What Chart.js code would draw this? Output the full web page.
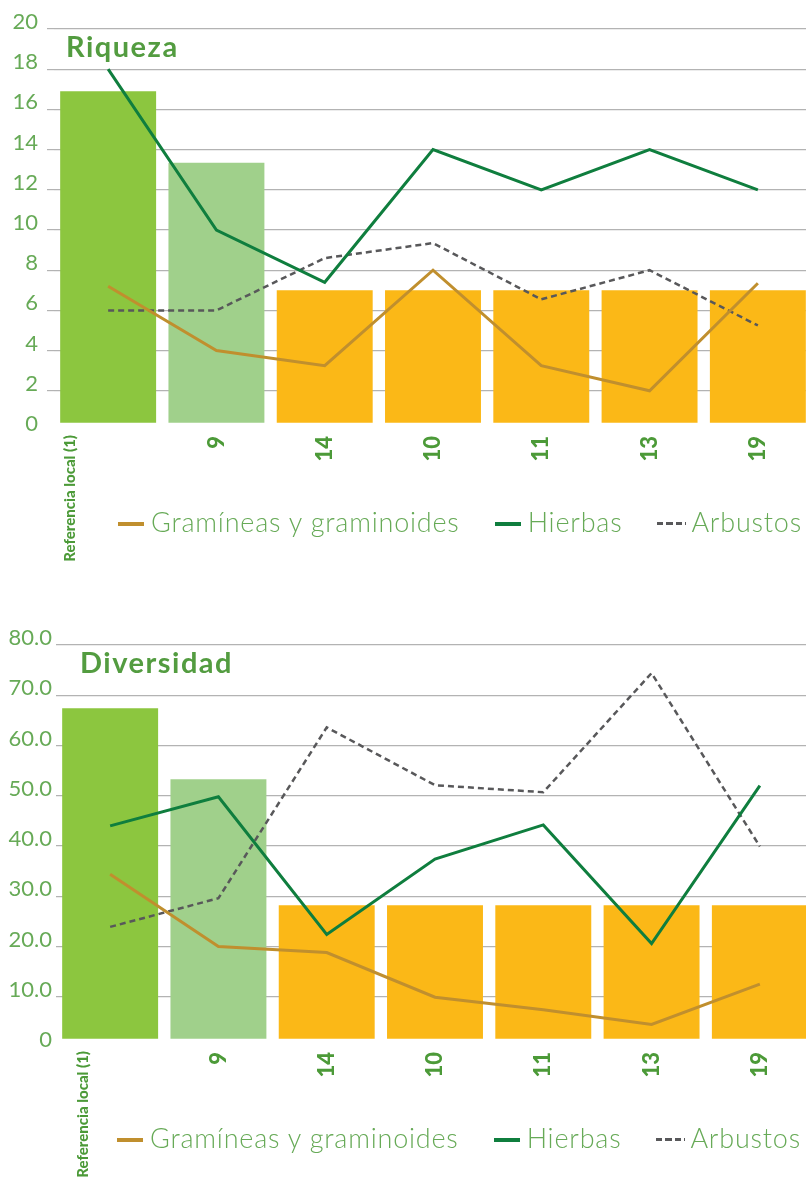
<!DOCTYPE html>
<html lang="es">
<head>
<meta charset="utf-8">
<title>Riqueza y diversidad</title>
<script src="https://cdn.jsdelivr.net/npm/chart.js@4.4.1/dist/chart.umd.min.js"></script>
<style>
  html, body { margin: 0; padding: 0; background: #fff; }
  #page { position: relative; width: 806px; height: 1182px; overflow: hidden; font-family: Lato, "Open Sans", sans-serif; }
  .panel { position: absolute; left: 0; width: 830px; height: 616px; }
  .panel canvas { position: absolute; left: 0; top: 0; }
  .panel-title { position: absolute; top: 31px; font-size: 29px; line-height: 29px; font-weight: 700; color: #539c40; letter-spacing: 1.5px; white-space: nowrap; }
  .legend { position: absolute; left: 118px; top: 508px; display: flex; align-items: center; white-space: nowrap; }
  .legend-item { display: flex; align-items: center; margin-right: 35px; }
  .legend-swatch { position: relative; top: 2px; width: 26px; height: 4px; margin-right: 7px; }
  .legend-text { font-size: 27px; line-height: 27px; font-weight: 300; color: #67aa57; letter-spacing: 0.8px; }
</style>
</head>
<body>
<div id="page">
  <div class="panel" style="top:0px">
    <canvas id="riqueza" width="830" height="616"></canvas>
    <div class="panel-title" style="left:66px">Riqueza</div>
    <div class="legend" id="legend-riqueza"></div>
  </div>
  <div class="panel" style="top:616px">
    <canvas id="diversidad" width="830" height="616"></canvas>
    <div class="panel-title" style="left:80px">Diversidad</div>
    <div class="legend" id="legend-diversidad" style="left:117px"></div>
  </div>
</div>
<script>
// Sites along the x axis
const categories = ['Referencia local (1)', '9', '14', '10', '11', '13', '19'];
const seriesNames = ['Gramíneas y graminoides', 'Hierbas', 'Arbustos'];

// Riqueza (species richness)
const riquezaBars      = [16.9, 13.35, 7.0, 7.0, 7.0, 7.0, 7.0];
const riquezaGramineas = [7.2, 4.0, 3.25, 8.0, 3.25, 2.0, 7.35];
const riquezaHierbas   = [18, 10, 7.4, 14, 12, 14, 12];
const riquezaArbustos  = [6.0, 6.0, 8.6, 9.35, 6.55, 8.0, 5.25];
const riquezaTickLabels = ['0', '2', '4', '6', '8', '10', '12', '14', '16', '18', '20'];

// Diversidad (diversity index)
const diversidadBars      = [67.4, 53.3, 28.2, 28.2, 28.2, 28.2, 28.2];
const diversidadGramineas = [34.4, 20.0, 18.8, 9.9, 7.4, 4.5, 12.5];
const diversidadHierbas   = [44.0, 49.8, 22.4, 37.4, 44.2, 20.6, 52.0];
const diversidadArbustos  = [23.9, 29.6, 63.6, 52.1, 50.7, 74.4, 39.9];
const diversidadTickLabels = ['0', '10.0', '20.0', '30.0', '40.0', '50.0', '60.0', '70.0', '80.0'];

// Styling
const GOLD = '#c08f2e';
const DARK_GREEN = '#0f7e3e';
const GREY = '#58585a';
const BAR_COLORS = ['#8cc63f', '#a0d08b', '#fbb817', '#fbb817', '#fbb817', '#fbb817', '#fbb817'];
const GRID = '#b3b3b3';
const LIGHT_GREEN = '#67aa57';
const BOLD_GREEN = '#4c9a38';
const FONT = 'Lato, "Open Sans", sans-serif';
const HEAVY_FONT = '"Lato Black", Lato, sans-serif';

const lineStyles = [
  { color: GOLD, width: 3, dash: [], order: 2 },
  { color: DARK_GREEN, width: 3, dash: [], order: 1 },
  { color: GREY, width: 2.5, dash: [6, 4], order: 3 }
];

function buildChart(canvasId, p) {
  const lineData = [p.gramineas, p.hierbas, p.arbustos];
  const datasets = lineData.map((d, i) => ({
    type: 'line',
    label: seriesNames[i],
    data: d,
    borderColor: lineStyles[i].color,
    backgroundColor: lineStyles[i].color,
    borderWidth: lineStyles[i].width,
    borderDash: lineStyles[i].dash,
    pointRadius: 0,
    tension: 0,
    fill: false,
    order: lineStyles[i].order
  }));
  datasets.push({
    type: 'bar',
    label: p.barLabel,
    data: p.bars,
    backgroundColor: BAR_COLORS,
    base: p.barBase,
    barPercentage: 0.886,
    categoryPercentage: 1,
    order: 4
  });

  // Both x axes hang off the zero line of the value axis, so they take no layout room
  const xAxisBase = {
    type: 'category',
    axis: 'x',
    position: { y: 0 },
    offset: true,
    grid: { display: false, drawTicks: false },
    border: { display: false }
  };

  return new Chart(document.getElementById(canvasId), {
    type: 'bar',
    data: { labels: categories, datasets },
    options: {
      responsive: false,
      animation: false,
      devicePixelRatio: 1,
      layout: { padding: { top: 29, bottom: 185, left: 0, right: 830 - p.areaRight } },
      plugins: { legend: { display: false }, tooltip: { enabled: false } },
      scales: {
        x: Object.assign({}, xAxisBase, {
          ticks: {
            autoSkip: false, minRotation: 90, maxRotation: 90, padding: 5,
            color: BOLD_GREEN,
            font: { family: HEAVY_FONT, size: 22, weight: 900 },
            callback: (v, i) => (i === 0 ? '' : categories[i])
          }
        }),
        xRef: Object.assign({}, xAxisBase, {
          ticks: {
            autoSkip: false, minRotation: 90, maxRotation: 90, padding: 4,
            labelOffset: p.refLabelOffset,
            color: BOLD_GREEN,
            font: { family: HEAVY_FONT, size: 15, weight: 900 },
            callback: (v, i) => (i === 0 ? categories[0] : '')
          }
        }),
        y: {
          min: 0,
          max: p.max,
          border: { display: false },
          grid: {
            color: c => (c.tick && c.tick.value === 0 ? 'rgba(0,0,0,0)' : GRID),
            lineWidth: 1.2,
            drawTicks: p.tickLen > 0,
            tickLength: p.tickLen
          },
          ticks: {
            stepSize: p.step,
            padding: p.tickPad,
            labelOffset: -7,
            color: LIGHT_GREEN,
            font: { family: FONT, size: 22, weight: 400 },
            callback: (v, i) => p.tickLabels[i]
          },
          afterFit: s => { s.width = p.axisWidth; }
        }
      }
    }
  });
}

function buildLegend(id) {
  const box = document.getElementById(id);
  seriesNames.forEach((name, i) => {
    const item = document.createElement('div');
    item.className = 'legend-item';
    const sw = document.createElement('span');
    sw.className = 'legend-swatch';
    const st = lineStyles[i];
    if (st.dash.length) {
      sw.style.width = '29px';
      sw.style.height = '3px';
      sw.style.background = `repeating-linear-gradient(to right, ${st.color} 0 6px, transparent 6px 9.5px)`;
      sw.style.marginRight = '5px';
    } else {
      sw.style.background = st.color;
    }
    const tx = document.createElement('span');
    tx.className = 'legend-text';
    tx.textContent = name;
    item.appendChild(sw);
    item.appendChild(tx);
    box.appendChild(item);
  });
}

buildChart('riqueza', {
  bars: riquezaBars, gramineas: riquezaGramineas, hierbas: riquezaHierbas, arbustos: riquezaArbustos,
  barLabel: 'Riqueza', barBase: 0.41, max: 20, step: 2, tickLabels: riquezaTickLabels,
  axisWidth: 54, areaRight: 812, tickLen: 7, tickPad: 9, refLabelOffset: -38
});
buildChart('diversidad', {
  bars: diversidadBars, gramineas: diversidadGramineas, hierbas: diversidadHierbas, arbustos: diversidadArbustos,
  barLabel: 'Diversidad', barBase: 1.65, max: 80, step: 10, tickLabels: diversidadTickLabels,
  axisWidth: 56, areaRight: 814, tickLen: 0, tickPad: 4, refLabelOffset: -27
});
buildLegend('legend-riqueza');
buildLegend('legend-diversidad');
</script>
</body>
</html>
